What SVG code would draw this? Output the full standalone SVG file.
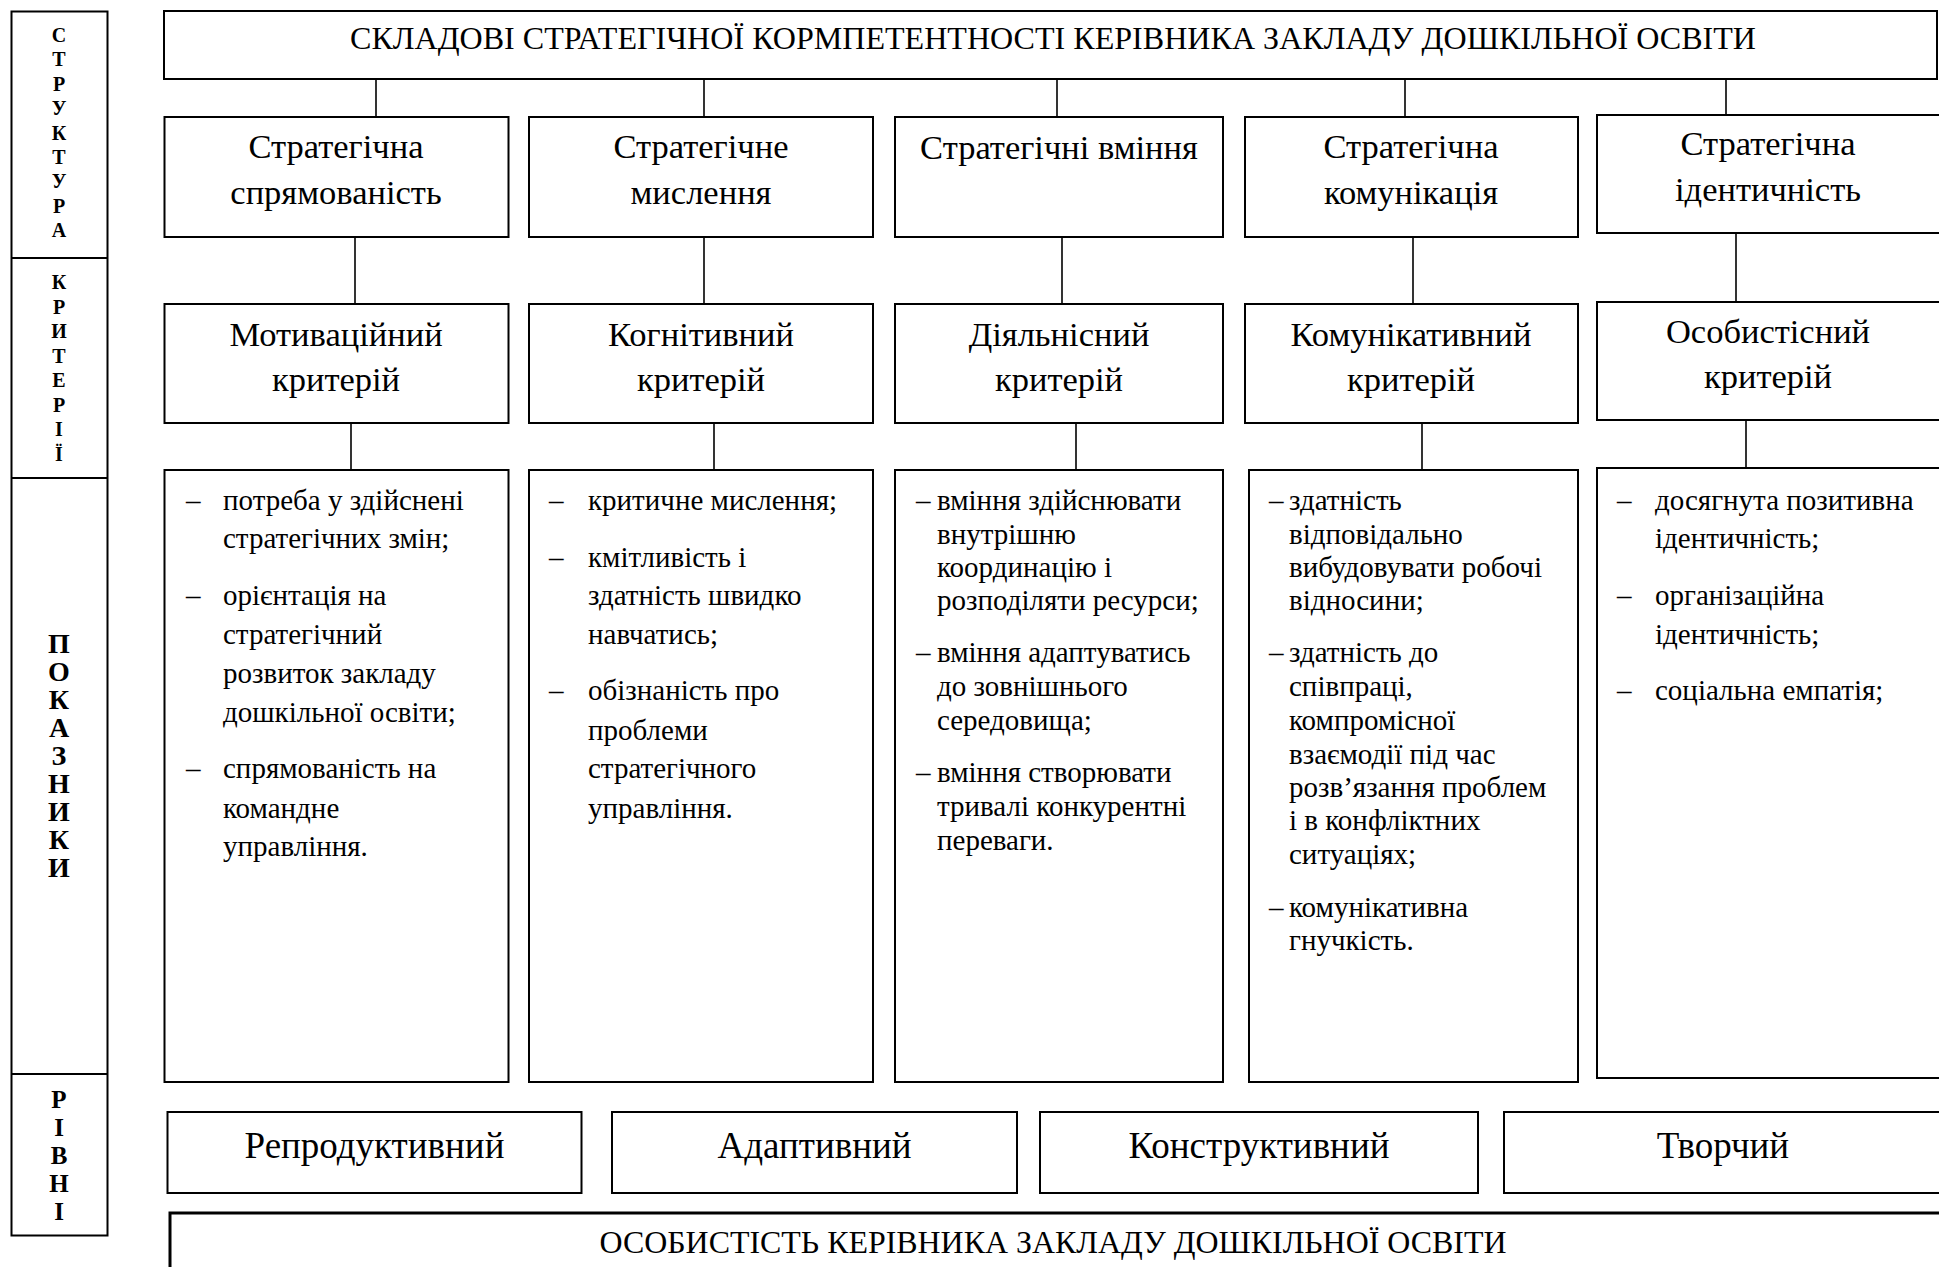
<svg xmlns="http://www.w3.org/2000/svg" width="1939" height="1267" viewBox="0 0 1939 1267">
<style>
.box{fill:#fff;stroke:#000;stroke-width:2}
.big{stroke-width:3}
.ln{stroke:#000;stroke-width:1.6;fill:none}
text{font-family:"Liberation Serif","Times New Roman",serif;fill:#000}
.side{font-size:20px;font-weight:bold;text-anchor:middle}
.side2{font-size:28px;font-weight:bold;text-anchor:middle}
.side3{font-size:25px;font-weight:bold;text-anchor:middle}
.hdr{font-size:32px;text-anchor:middle}
.lab{font-size:34.5px;text-anchor:middle}
.lvl{font-size:37px;text-anchor:middle}
.body{font-size:29px}
</style>
<rect width="1939" height="1267" fill="#fff"/>

<g id="side">
<rect class="box" x="11.5" y="11.5" width="96" height="1224"/>
<line class="ln" x1="11.5" y1="258" x2="107.5" y2="258" style="stroke-width:2"/>
<line class="ln" x1="11.5" y1="478" x2="107.5" y2="478" style="stroke-width:2"/>
<line class="ln" x1="11.5" y1="1074" x2="107.5" y2="1074" style="stroke-width:2"/>
<text class="side"><tspan x="59" y="42">С</tspan><tspan x="59" y="66.4">Т</tspan><tspan x="59" y="90.8">Р</tspan><tspan x="59" y="115.2">У</tspan><tspan x="59" y="139.6">К</tspan><tspan x="59" y="164">Т</tspan><tspan x="59" y="188.4">У</tspan><tspan x="59" y="212.8">Р</tspan><tspan x="59" y="237.2">А</tspan></text>
<text class="side"><tspan x="59" y="289">К</tspan><tspan x="59" y="313.5">Р</tspan><tspan x="59" y="338">И</tspan><tspan x="59" y="362.5">Т</tspan><tspan x="59" y="387">Е</tspan><tspan x="59" y="411.5">Р</tspan><tspan x="59" y="436">І</tspan><tspan x="59" y="460.5">Ї</tspan></text>
<text class="side2"><tspan x="59" y="653">П</tspan><tspan x="59" y="681">О</tspan><tspan x="59" y="709">К</tspan><tspan x="59" y="737">А</tspan><tspan x="59" y="765">З</tspan><tspan x="59" y="793">Н</tspan><tspan x="59" y="821">И</tspan><tspan x="59" y="849">К</tspan><tspan x="59" y="877">И</tspan></text>
<text class="side3"><tspan x="59" y="1108">Р</tspan><tspan x="59" y="1136">І</tspan><tspan x="59" y="1164">В</tspan><tspan x="59" y="1192">Н</tspan><tspan x="59" y="1220">І</tspan></text>
</g>

<g id="connectors">
<line class="ln" x1="376" y1="80" x2="376" y2="117"/>
<line class="ln" x1="704" y1="80" x2="704" y2="117"/>
<line class="ln" x1="1057" y1="80" x2="1057" y2="117"/>
<line class="ln" x1="1405" y1="80" x2="1405" y2="117"/>
<line class="ln" x1="1726" y1="80" x2="1726" y2="115"/>
<line class="ln" x1="355" y1="237" x2="355" y2="304"/>
<line class="ln" x1="704" y1="237" x2="704" y2="304"/>
<line class="ln" x1="1062" y1="237" x2="1062" y2="304"/>
<line class="ln" x1="1413" y1="237" x2="1413" y2="304"/>
<line class="ln" x1="1736" y1="233" x2="1736" y2="302"/>
<line class="ln" x1="351" y1="423" x2="351" y2="470"/>
<line class="ln" x1="714" y1="423" x2="714" y2="470"/>
<line class="ln" x1="1076" y1="423" x2="1076" y2="470"/>
<line class="ln" x1="1422" y1="423" x2="1422" y2="470"/>
<line class="ln" x1="1746" y1="420" x2="1746" y2="468"/>
</g>

<g id="title">
<rect class="box" x="164" y="11" width="1773" height="68"/>
<text class="hdr" x="1053" y="49" textLength="1406" lengthAdjust="spacingAndGlyphs">СКЛАДОВІ СТРАТЕГІЧНОЇ КОРМПЕТЕНТНОСТІ КЕРІВНИКА ЗАКЛАДУ ДОШКІЛЬНОЇ ОСВІТИ</text>
</g>

<g id="s1">
<rect class="box" x="164.5" y="117" width="344" height="120"/>
<text class="lab"><tspan x="336" y="158">Стратегічна</tspan><tspan x="336" y="204">спрямованість</tspan></text>
</g>
<g id="s2">
<rect class="box" x="529" y="117" width="344" height="120"/>
<text class="lab"><tspan x="701" y="158">Стратегічне</tspan><tspan x="701" y="204">мислення</tspan></text>
</g>
<g id="s3">
<rect class="box" x="895" y="117" width="328" height="120"/>
<text class="lab" x="1059" y="159">Стратегічні вміння</text>
</g>
<g id="s4">
<rect class="box" x="1245" y="117" width="333" height="120"/>
<text class="lab"><tspan x="1411" y="158">Стратегічна</tspan><tspan x="1411" y="204">комунікація</tspan></text>
</g>
<g id="s5">
<rect class="box" x="1597" y="115" width="350" height="118"/>
<text class="lab"><tspan x="1768" y="155">Стратегічна</tspan><tspan x="1768" y="201">ідентичність</tspan></text>
</g>

<g id="c1">
<rect class="box" x="164.5" y="304" width="344" height="119"/>
<text class="lab"><tspan x="336" y="346">Мотиваційний</tspan><tspan x="336" y="391">критерій</tspan></text>
</g>
<g id="c2">
<rect class="box" x="529" y="304" width="344" height="119"/>
<text class="lab"><tspan x="701" y="346">Когнітивний</tspan><tspan x="701" y="391">критерій</tspan></text>
</g>
<g id="c3">
<rect class="box" x="895" y="304" width="328" height="119"/>
<text class="lab"><tspan x="1059" y="346">Діяльнісний</tspan><tspan x="1059" y="391">критерій</tspan></text>
</g>
<g id="c4">
<rect class="box" x="1245" y="304" width="333" height="119"/>
<text class="lab"><tspan x="1411" y="346">Комунікативний</tspan><tspan x="1411" y="391">критерій</tspan></text>
</g>
<g id="c5">
<rect class="box" x="1597" y="302" width="350" height="118"/>
<text class="lab"><tspan x="1768" y="343">Особистісний</tspan><tspan x="1768" y="388">критерій</tspan></text>
</g>

<g id="i1">
<rect class="box" x="164.5" y="470" width="344" height="612"/>
<text class="body"><tspan x="186" y="510">–</tspan><tspan x="223" y="510">потреба у здійснені</tspan><tspan x="223" y="548">стратегічних змін;</tspan><tspan x="186" y="605">–</tspan><tspan x="223" y="605">орієнтація на</tspan><tspan x="223" y="644">стратегічний</tspan><tspan x="223" y="683">розвиток закладу</tspan><tspan x="223" y="722">дошкільної освіти;</tspan><tspan x="186" y="778">–</tspan><tspan x="223" y="778">спрямованість на</tspan><tspan x="223" y="818">командне</tspan><tspan x="223" y="856">управління.</tspan></text>
</g>
<g id="i2">
<rect class="box" x="529" y="470" width="344" height="612"/>
<text class="body"><tspan x="549" y="510">–</tspan><tspan x="588" y="510">критичне мислення;</tspan><tspan x="549" y="567">–</tspan><tspan x="588" y="567">кмітливість і</tspan><tspan x="588" y="605">здатність швидко</tspan><tspan x="588" y="644">навчатись;</tspan><tspan x="549" y="700">–</tspan><tspan x="588" y="700">обізнаність про</tspan><tspan x="588" y="740">проблеми</tspan><tspan x="588" y="778">стратегічного</tspan><tspan x="588" y="818">управління.</tspan></text>
</g>
<g id="i3">
<rect class="box" x="895" y="470" width="328" height="612"/>
<text class="body"><tspan x="916" y="510">–</tspan><tspan x="937" y="510">вміння здійснювати</tspan><tspan x="937" y="543.5">внутрішню</tspan><tspan x="937" y="577">координацію і</tspan><tspan x="937" y="610">розподіляти ресурси;</tspan><tspan x="916" y="662">–</tspan><tspan x="937" y="662">вміння адаптуватись</tspan><tspan x="937" y="695.5">до зовнішнього</tspan><tspan x="937" y="730">середовища;</tspan><tspan x="916" y="782">–</tspan><tspan x="937" y="782">вміння створювати</tspan><tspan x="937" y="815.5">тривалі конкурентні</tspan><tspan x="937" y="850">переваги.</tspan></text>
</g>
<g id="i4">
<rect class="box" x="1249" y="470" width="329" height="612"/>
<text class="body"><tspan x="1269" y="510">–</tspan><tspan x="1289" y="510">здатність</tspan><tspan x="1289" y="543.5">відповідально</tspan><tspan x="1289" y="577">вибудовувати робочі</tspan><tspan x="1289" y="610">відносини;</tspan><tspan x="1269" y="662">–</tspan><tspan x="1289" y="662">здатність до</tspan><tspan x="1289" y="695.5">співпраці,</tspan><tspan x="1289" y="730">компромісної</tspan><tspan x="1289" y="763.5">взаємодії під час</tspan><tspan x="1289" y="797">розв’язання проблем</tspan><tspan x="1289" y="830">і в конфліктних</tspan><tspan x="1289" y="864">ситуаціях;</tspan><tspan x="1269" y="917">–</tspan><tspan x="1289" y="917">комунікативна</tspan><tspan x="1289" y="950">гнучкість.</tspan></text>
</g>
<g id="i5">
<rect class="box" x="1597" y="468" width="350" height="610"/>
<text class="body"><tspan x="1617" y="510">–</tspan><tspan x="1655" y="510">досягнута позитивна</tspan><tspan x="1655" y="548">ідентичність;</tspan><tspan x="1617" y="605">–</tspan><tspan x="1655" y="605">організаційна</tspan><tspan x="1655" y="644">ідентичність;</tspan><tspan x="1617" y="700">–</tspan><tspan x="1655" y="700">соціальна емпатія;</tspan></text>
</g>

<g id="l1">
<rect class="box" x="167.5" y="1112" width="414" height="81"/>
<text class="lvl" x="374.5" y="1158">Репродуктивний</text>
</g>
<g id="l2">
<rect class="box" x="612" y="1112" width="405" height="81"/>
<text class="lvl" x="814.5" y="1158">Адаптивний</text>
</g>
<g id="l3">
<rect class="box" x="1040" y="1112" width="438" height="81"/>
<text class="lvl" x="1259" y="1158">Конструктивний</text>
</g>
<g id="l4">
<rect class="box" x="1504" y="1112" width="440" height="81"/>
<text class="lvl" x="1723" y="1158">Творчий</text>
</g>

<g id="base">
<rect class="box big" x="170" y="1213" width="1780" height="70"/>
<text class="hdr" x="1053" y="1253" textLength="907" lengthAdjust="spacingAndGlyphs">ОСОБИСТІСТЬ КЕРІВНИКА ЗАКЛАДУ ДОШКІЛЬНОЇ ОСВІТИ</text>
</g>
</svg>
